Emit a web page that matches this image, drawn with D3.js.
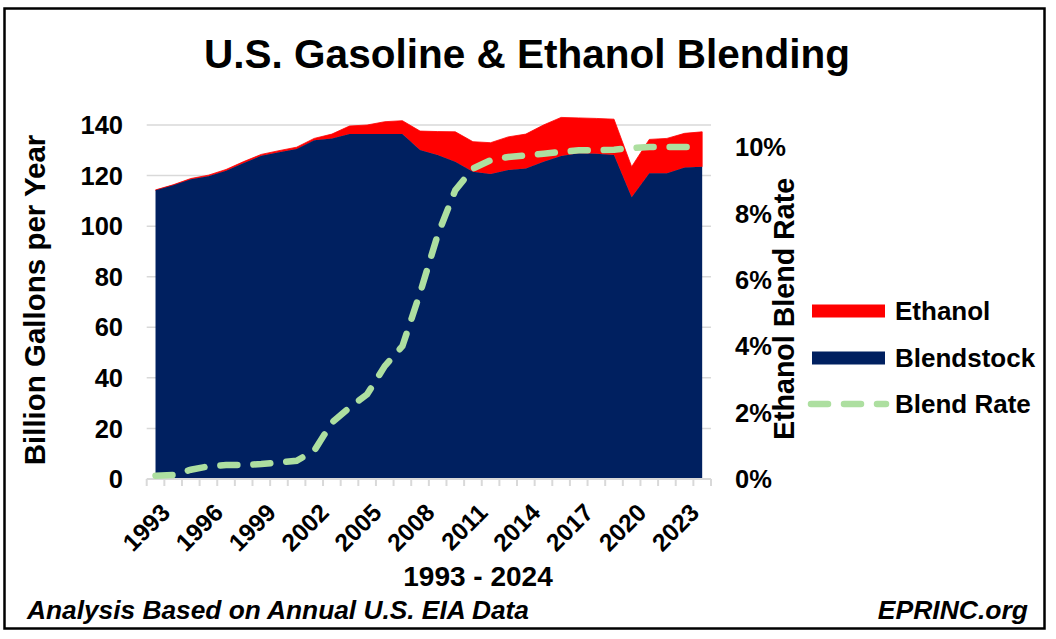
<!DOCTYPE html>
<html>
<head>
<meta charset="utf-8">
<script src="https://cdn.jsdelivr.net/npm/d3@7"></script>
<style>
  body { margin: 0; background: #fff; }
  svg text { font-family: "Liberation Sans", Arial, sans-serif; font-weight: bold; fill: #000; }
</style>
</head>
<body>
<svg id="chart" width="1056" height="639"></svg>
<script>
// Years on the category axis
var years = d3.range(1993, 2025);

// Billion gallons per year
var blendstock = [114.2, 116.2, 118.5, 119.7, 121.9, 125.0, 127.8, 129.2, 130.5, 134.0,
  134.7, 136.4, 136.4, 136.4, 136.4, 130.1, 128.1, 125.5, 121.5, 120.6,
  122.2, 122.8, 125.5, 127.7, 128.8, 128.6, 128.1, 111.4, 120.9, 120.9, 123.2, 123.5];
var ethanol = [0.12, 0.14, 0.33, 0.46, 0.51, 0.53, 0.58, 0.65, 0.72, 0.7,
  1.7, 3.2, 3.6, 4.9, 5.3, 7.5, 9.3, 11.8, 11.9, 12.4,
  13.1, 13.6, 14.5, 15.3, 14.0, 14.0, 14.2, 12.1, 13.4, 13.8, 13.5, 13.8];

// Ethanol blend rate (fraction)
var blendRate = [0.0010, 0.0012, 0.0028, 0.0038, 0.0042, 0.0042, 0.0045, 0.0050, 0.0055, 0.0085,
  0.0170, 0.0215, 0.0255, 0.0340, 0.0400, 0.0560, 0.0735, 0.0870, 0.0935, 0.0960,
  0.0970, 0.0975, 0.0980, 0.0985, 0.0990, 0.0990, 0.0992, 0.0997, 0.1000, 0.1000, 0.1000, 0.1000];

var leftTicks = [0, 20, 40, 60, 80, 100, 120, 140];
var rightTicks = [0, 0.02, 0.04, 0.06, 0.08, 0.10];
var labelYears = years.filter(function (y) { return (y - 1993) % 3 === 0; });

var seriesNames = ["Ethanol", "Blendstock", "Blend Rate"];
var colors = { Ethanol: "#ff0000", Blendstock: "#002060", "Blend Rate": "#addfa0" };

var svg = d3.select("#chart");

// plot area (don't call these top/left, window.top is read-only)
var plotL = 146.7, plotR = 711, plotT = 125, plotB = 479;

var x = d3.scaleBand().domain(years).range([plotL, plotR]).padding(0);
var cx = function (d) { return x(d) + x.bandwidth() / 2; };
var y = d3.scaleLinear().domain([0, 140]).range([plotB, plotT]);
// right axis: 10% sits lower than the 140 gridline
var y2 = d3.scaleLinear().domain([0, 0.1 * (plotB - plotT) / 332]).range([plotB, plotT]);

var rows = years.map(function (yr, i) {
  return { year: yr, blend: blendstock[i], eth: ethanol[i], rate: blendRate[i] };
});

// outer frame
svg.append("rect")
  .attr("x", 4.5).attr("y", 8.5)
  .attr("width", 1040).attr("height", 620)
  .attr("fill", "none").attr("stroke", "#000").attr("stroke-width", 2.5);

// title
svg.append("text")
  .attr("x", 527).attr("y", 68)
  .attr("text-anchor", "middle")
  .style("font-size", "40.5px")
  .text("U.S. Gasoline & Ethanol Blending");

// gridlines
svg.append("g").selectAll("line")
  .data(leftTicks.slice(1))
  .join("line")
  .attr("x1", plotL).attr("x2", plotR)
  .attr("y1", function (d) { return y(d); })
  .attr("y2", function (d) { return y(d); })
  .attr("stroke", "#d9d9d9").attr("stroke-width", 1.5);

// stacked areas
var areaBlend = d3.area()
  .x(function (d) { return cx(d.year); })
  .y0(y(0))
  .y1(function (d) { return y(d.blend); });
var areaEth = d3.area()
  .x(function (d) { return cx(d.year); })
  .y0(function (d) { return y(d.blend); })
  .y1(function (d) { return y(d.blend + d.eth); });

svg.append("path").datum(rows).attr("d", areaEth)
  .attr("fill", colors.Ethanol).attr("stroke", colors.Ethanol).attr("stroke-width", 0.8);
svg.append("path").datum(rows).attr("d", areaBlend)
  .attr("fill", colors.Blendstock);

// x axis (category ticks between years)
var xAxis = svg.append("g");
xAxis.append("line")
  .attr("x1", plotL).attr("x2", plotR)
  .attr("y1", plotB).attr("y2", plotB)
  .attr("stroke", "#d9d9d9").attr("stroke-width", 2);
xAxis.selectAll("line.tick")
  .data(years.concat([2025]))
  .join("line")
  .attr("class", "tick")
  .attr("x1", function (d) { return d === 2025 ? plotR : x(d); })
  .attr("x2", function (d) { return d === 2025 ? plotR : x(d); })
  .attr("y1", plotB).attr("y2", plotB + 7)
  .attr("stroke", "#d9d9d9").attr("stroke-width", 2);
xAxis.selectAll("text")
  .data(labelYears)
  .join("text")
  .attr("text-anchor", "end")
  .attr("transform", function (d) { return "translate(" + (cx(d) + 4) + "," + (plotB + 23) + ") rotate(-45)"; })
  .attr("dy", "0.7em")
  .style("font-size", "24.5px")
  .text(function (d) { return d; });

// blend rate line
var line = d3.line()
  .x(function (d) { return cx(d.year); })
  .y(function (d) { return y2(d.rate); });
svg.append("path").datum(rows).attr("d", line)
  .attr("fill", "none")
  .attr("stroke", colors["Blend Rate"])
  .attr("stroke-width", 6.5)
  .attr("stroke-linecap", "round")
  .attr("stroke-dasharray", "17,16");

// left axis labels
svg.append("g").selectAll("text")
  .data(leftTicks)
  .join("text")
  .attr("x", 123)
  .attr("y", function (d) { return y(d); })
  .attr("dy", "0.36em")
  .attr("text-anchor", "end")
  .style("font-size", "25.5px")
  .text(function (d) { return d; });

// right axis labels
var pct = d3.format(".0%");
svg.append("g").selectAll("text")
  .data(rightTicks)
  .join("text")
  .attr("x", 735)
  .attr("y", function (d) { return y2(d); })
  .attr("dy", "0.36em")
  .style("font-size", "25.5px")
  .text(function (d) { return pct(d); });

// axis titles
svg.append("text")
  .attr("transform", "translate(45,300) rotate(-90)")
  .attr("text-anchor", "middle")
  .style("font-size", "29.5px")
  .text("Billion  Gallons per Year");
svg.append("text")
  .attr("transform", "translate(794,309) rotate(-90)")
  .attr("text-anchor", "middle")
  .style("font-size", "28.6px")
  .text("Ethanol Blend Rate");

svg.append("text")
  .attr("x", 478).attr("y", 586)
  .attr("text-anchor", "middle")
  .style("font-size", "28px")
  .text("1993 - 2024");

// legend
var legend = svg.append("g");
var legY = [311, 358, 404];
seriesNames.forEach(function (name, i) {
  if (name === "Blend Rate") {
    legend.append("line")
      .attr("x1", 811).attr("x2", 886)
      .attr("y1", legY[i]).attr("y2", legY[i])
      .attr("stroke", colors[name]).attr("stroke-width", 6.5)
      .attr("stroke-linecap", "round").attr("stroke-dasharray", "17,16");
  } else {
    legend.append("rect")
      .attr("x", 812).attr("y", legY[i] - 6.5)
      .attr("width", 73).attr("height", 13)
      .attr("fill", colors[name]);
  }
  legend.append("text")
    .attr("x", 895).attr("y", legY[i])
    .attr("dy", "0.36em")
    .style("font-size", "26px")
    .text(name);
});

// footer
svg.append("text")
  .attr("x", 27).attr("y", 619)
  .attr("textLength", 502).attr("lengthAdjust", "spacingAndGlyphs")
  .style("font-size", "25px").style("font-style", "italic")
  .text("Analysis Based on Annual U.S. EIA Data");
svg.append("text")
  .attr("x", 1028).attr("y", 619)
  .attr("text-anchor", "end")
  .style("font-size", "26.5px").style("font-style", "italic")
  .text("EPRINC.org");
</script>
</body>
</html>
